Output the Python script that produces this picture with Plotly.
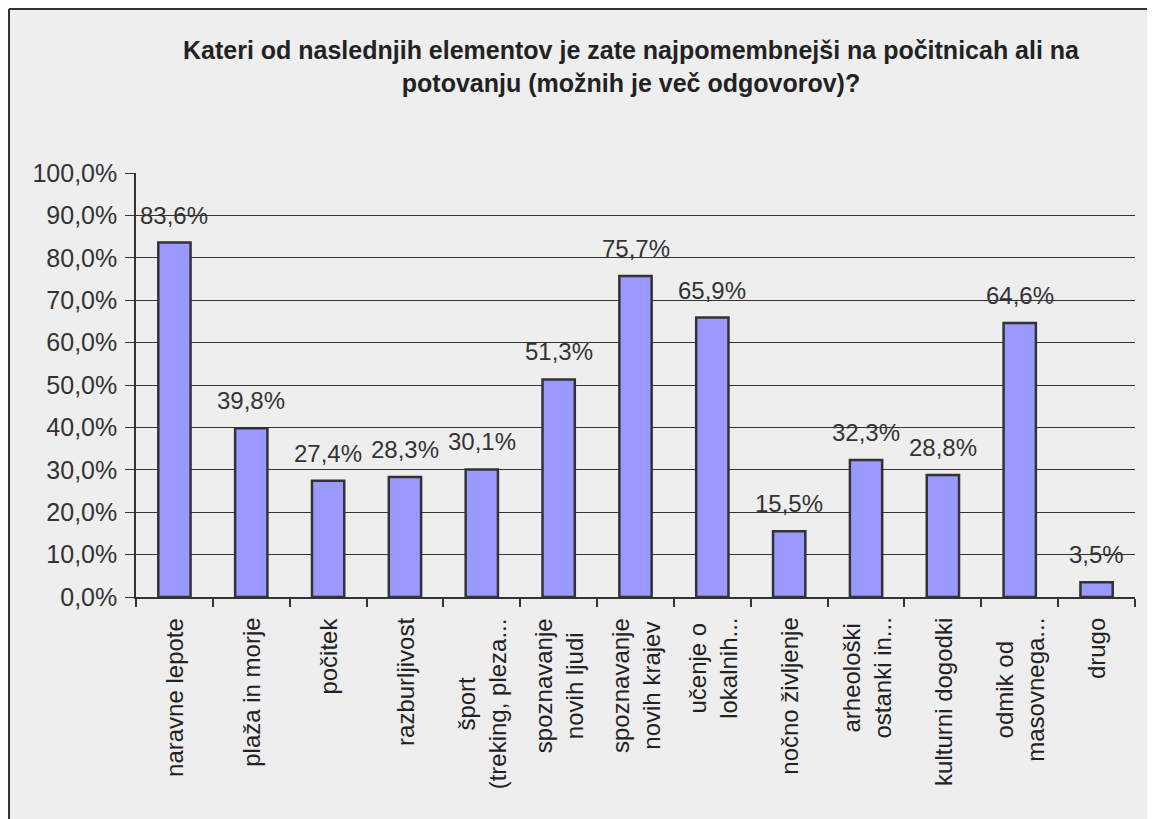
import plotly.graph_objects as go

categories = [
    "naravne lepote",
    "plaža in morje",
    "počitek",
    "razburljivost",
    "šport<br>(treking, pleza...",
    "spoznavanje<br>novih ljudi",
    "spoznavanje<br>novih krajev",
    "učenje o<br>lokalnih...",
    "nočno življenje",
    "arheološki<br>ostanki in...",
    "kulturni dogodki",
    "odmik od<br>masovnega...",
    "drugo",
]
values = [83.6, 39.8, 27.4, 28.3, 30.1, 51.3, 75.7, 65.9, 15.5, 32.3, 28.8, 64.6, 3.5]
y_ticks = [0, 10, 20, 30, 40, 50, 60, 70, 80, 90, 100]
y_tick_labels = ["0,0%", "10,0%", "20,0%", "30,0%", "40,0%", "50,0%",
                 "60,0%", "70,0%", "80,0%", "90,0%", "100,0%"]

title_text = ("Kateri od naslednjih elementov je zate najpomembnejši na počitnicah ali na<br>"
              "potovanju (možnih je več odgovorov)?")

OFF = 8  # default page body margin
W, H = 1155 - OFF, 819 - OFF
L, R, T, B = 136 - OFF, 20, 173 - OFF, 222
pw, ph = W - L - R, H - T - B

def px(x):
    return (x - OFF - L) / pw

def py(y):
    return (H - B - (y - OFF)) / ph

FONT = "Liberation Sans, Arial, sans-serif"

fig = go.Figure()
fig.add_trace(go.Bar(
    x=list(range(len(categories))),
    y=values,
    marker=dict(color="#9999FF", line=dict(color="#333333", width=2.5)),
    width=0.42,
    hoverinfo="skip",
))

annotations = [
    dict(x=i, xref="x", y=py(616), yref="paper", text=lab, showarrow=False,
         textangle=-90, xanchor="center", yanchor="top", align="center",
         font=dict(family=FONT, size=24, color="#222222"))
    for i, lab in enumerate(categories)
]
annotations += [
    dict(x=i, xref="x", y=v, yref="y", text=f"{v:.1f}%".replace(".", ","),
         showarrow=False, xanchor="center", yanchor="bottom", yshift=12,
         font=dict(family=FONT, size=24, color="#333333"))
    for i, v in enumerate(values)
]

fig.update_layout(
    width=W, height=H,
    margin=dict(l=L, r=R, t=T, b=B),
    paper_bgcolor="#EEEEEE",
    plot_bgcolor="rgba(0,0,0,0)",
    separators=", ",
    showlegend=False,
    title=dict(text="<b>" + title_text + "</b>", x=(631 - OFF) / W, xanchor="center",
               y=1 - (59 - OFF) / H, yanchor="middle",
               font=dict(family=FONT, size=25, color="#222222")),
    shapes=[
        dict(type="line", xref="paper", yref="paper", x0=px(9), x1=px(9), y0=py(830), y1=py(9),
             line=dict(color="#333333", width=2)),
        dict(type="line", xref="paper", yref="paper", x0=px(9), x1=px(1170), y0=py(9), y1=py(9),
             line=dict(color="#333333", width=2)),
    ],
    annotations=annotations,
)

fig.update_xaxes(
    tickmode="array", tickvals=list(range(len(categories))),
    showticklabels=False,
    range=[-0.5, len(categories) - 0.5],
    showline=True, linecolor="#333333", linewidth=2,
    ticks="", showgrid=False, zeroline=False,
)
fig.update_xaxes(minor=dict(tickmode="array",
                            tickvals=[i - 0.5 for i in range(len(categories) + 1)],
                            ticks="outside", ticklen=8, tickcolor="#333333", tickwidth=1.5))

fig.update_yaxes(
    range=[0, 100], tickmode="array", tickvals=y_ticks, ticktext=y_tick_labels,
    tickfont=dict(family=FONT, size=25, color="#333333"),
    showgrid=True, gridcolor="#333333", gridwidth=1.3,
    showline=True, linecolor="#333333", linewidth=1.5,
    ticks="outside", ticklen=9, tickcolor="#333333", ticklabelstandoff=3,
    zeroline=False,
)

fig.write_html("out.html")
